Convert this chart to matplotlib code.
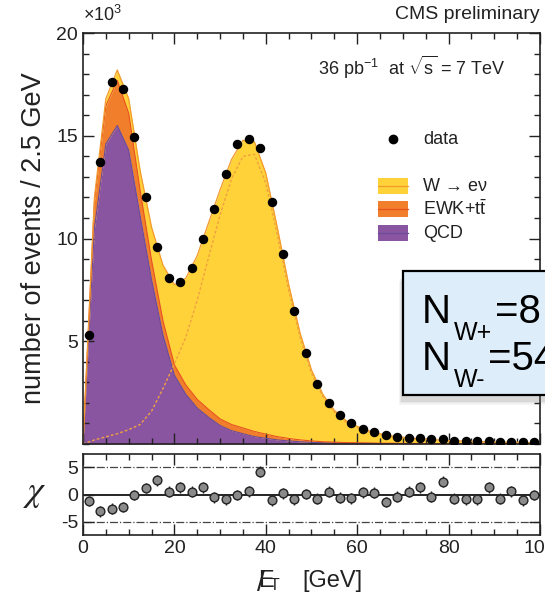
import numpy as np
import matplotlib
matplotlib.use('Agg')
import matplotlib.pyplot as plt
from matplotlib.patches import Rectangle

plt.rcParams['font.family'] = ['Liberation Sans', 'DejaVu Sans']
plt.rcParams['mathtext.fontset'] = 'custom'
plt.rcParams['mathtext.rm'] = 'Liberation Sans'
plt.rcParams['mathtext.it'] = 'Liberation Sans:italic'
plt.rcParams['mathtext.bf'] = 'Liberation Sans:bold'
plt.rcParams['axes.unicode_minus'] = False

# fit templates (x10^3 events / 2.5 GeV), evaluated on the bin edges
met_grid = [0, 2.5, 5, 7.5, 10, 12.5, 15, 17.5, 20, 22.5, 25, 27.5, 30, 32.5, 35, 37.5,
            40, 42.5, 45, 47.5, 50, 52.5, 55, 57.5, 60, 62.5, 65, 67.5, 70, 72.5, 75,
            77.5, 80, 82.5, 85, 87.5, 90, 92.5, 95, 97.5, 100]
qcd = [0, 10.5, 14.6, 15.5, 14.3, 11.1, 8.0, 5.3, 3.35, 2.42, 1.75, 1.3, 0.9, 0.65, 0.5, 0.36,
       0.28, 0.2, 0.15, 0.11, 0.08, 0.06, 0.05, 0.04, 0.03, 0.03, 0.02, 0.02, 0.02, 0.02, 0.01,
       0.01, 0.01, 0.01, 0.01, 0.01, 0.01, 0.01, 0.01, 0.01, 0.01]
ewk = [0, 1.3, 1.85, 2.2, 1.8, 1.25, 0.95, 0.7, 0.5, 0.45, 0.42, 0.38, 0.32, 0.3, 0.28, 0.25,
       0.2, 0.16, 0.12, 0.09, 0.07, 0.05, 0.04, 0.03, 0.03, 0.02, 0.02, 0.02, 0.01, 0.01, 0.01,
       0.01, 0.01, 0.01, 0.01, 0.0, 0.0, 0.0, 0.0, 0.0, 0.0]
wenu = [0, 0.2, 0.35, 0.5, 0.7, 0.95, 1.6, 2.7, 3.9, 5.2, 7.0, 9.1, 11.15, 12.9, 14.0, 14.1,
        12.7, 10.2, 7.5, 5.2, 3.45, 2.3, 1.55, 1.08, 0.8, 0.6, 0.46, 0.36, 0.3, 0.25, 0.21,
        0.18, 0.15, 0.13, 0.11, 0.1, 0.09, 0.08, 0.07, 0.06, 0.05]

# data, bin centres
bin_centers = np.arange(1.25, 100, 2.5)
data = [5.3, 13.7, 17.6, 17.3, 14.95, 12.0, 9.6, 8.06, 7.9, 8.55, 10.0, 11.45, 13.15, 14.6,
        14.85, 14.4, 11.8, 9.27, 6.45, 4.45, 2.9, 2.0, 1.4, 1.0, 0.73, 0.58, 0.44, 0.34, 0.3,
        0.27, 0.22, 0.22, 0.17, 0.15, 0.13, 0.13, 0.1, 0.1, 0.08, 0.08]
chi = [-1.2, -3.1, -2.65, -2.3, -0.1, 1.2, 2.6, 0.5, 1.35, 0.5, 1.35, -0.5, -0.9, -0.1, 0.6,
       4.2, -1.05, 0.2, -0.9, 0.1, -0.8, 0.5, -0.6, -0.7, 0.4, 0.3, -1.4, -0.4, 0.5, 1.35,
       -0.4, 2.35, -0.8, -0.9, -0.9, 1.35, -0.8, 0.6, -1.1, -0.1]

c_w = '#FFD23A'
c_ewk = '#F07E2A'
c_qcd = '#8A55A0'
txt = '#222222'

x = np.array(met_grid)
s_qcd = np.array(qcd)
s_ewk = s_qcd + np.array(ewk)
s_tot = s_ewk + np.array(wenu)

fig = plt.figure(figsize=(5.45, 5.96), dpi=100)
ax = fig.add_axes([0.1523, 0.255, 0.8385, 0.6896])
axr = fig.add_axes([0.1523, 0.1023, 0.8385, 0.136])

ax.fill_between(x, 0, s_qcd, color=c_qcd, lw=0, zorder=1)
ax.fill_between(x, s_qcd, s_ewk, color=c_ewk, lw=0, zorder=1)
ax.fill_between(x, s_ewk, s_tot, color=c_w, lw=0, zorder=1)
ax.plot(x, s_qcd, color='#6B4C9A', lw=0.8, zorder=2)
ax.plot(x, s_ewk, color='#E8521E', lw=0.8, zorder=2)
ax.plot(x, s_tot, color='#F29A2E', lw=0.9, zorder=2)
ax.plot(x, wenu, color='#F0A040', lw=1.0, ls=(0, (2, 1.5)), zorder=2)
ax.plot(bin_centers, data, 'o', color='black', ms=5.8, zorder=3)

ax.set_xlim(0, 100)
ax.set_ylim(0, 20)
ax.set_yticks([5, 10, 15, 20])
ax.set_yticks(np.arange(0, 21, 1), minor=True)
ax.set_xticks(np.arange(0, 101, 20))
ax.set_xticks(np.arange(0, 101, 5), minor=True)
ax.tick_params(labelbottom=False)
ax.set_ylabel('number of events / 2.5 GeV', fontsize=19.5, labelpad=7, color=txt)

for a in (ax, axr):
    a.tick_params(which='both', direction='in', top=True, right=True, labelsize=14,
                  width=1.0, colors=txt, labelcolor=txt)
    a.tick_params(which='major', length=8)
    a.tick_params(which='minor', length=4)
    for sp in a.spines.values():
        sp.set_linewidth(1.2)
        sp.set_color(txt)

# residuals
axr.axhline(0, color='black', lw=1.2, zorder=1)
axr.axhline(5, color='#444444', lw=0.9, ls='-.', zorder=1)
axr.axhline(-5, color='#444444', lw=0.9, ls='-.', zorder=1)
axr.errorbar(bin_centers, chi, yerr=1, fmt='o', ms=6.3, mfc='#8a8a8a', mec='#222222',
             mew=1.0, ecolor='#222222', elinewidth=1.0, capsize=0, zorder=3)
axr.set_xlim(0, 100)
axr.set_ylim(-7.5, 7.5)
axr.set_yticks([-5, 0, 5])
axr.set_xticks(np.arange(0, 101, 20))
axr.set_xticks(np.arange(0, 101, 5), minor=True)
axr.set_ylabel(r'$\chi$', fontsize=26, rotation=0, va='center', color=txt,
               math_fontfamily='stix')
axr.yaxis.set_label_coords(-0.105, 0.52)

def fy(py):
    return 1 - py / 596.0

# missing transverse energy label: E with a slash through it
fig.text(258 / 545, fy(587), 'E', fontsize=17, color=txt, va='baseline')
fig.text(257 / 545, fy(591), '/', fontsize=20, color=txt, va='baseline')
fig.text(270 / 545, fy(590), 'T', fontsize=11.5, color=txt, va='baseline')
fig.text(302 / 545, fy(587), '[GeV]', fontsize=17, color=txt, va='baseline')

# labels around the frame
fig.text(0.1523, 0.958, r'$\times$10$^{3}$', fontsize=13, color=txt, va='bottom')
fig.text(0.99, 0.975, 'CMS preliminary', fontsize=14, color=txt, ha='right', va='center')
ax.text(0.925, 0.915, r'36 pb$^{\mathregular{-1}}$  at $\sqrt{\mathrm{s}}$ = 7 TeV',
        transform=ax.transAxes, fontsize=13, ha='right', va='center', color=txt)

# legend
def ax_pt(px, py):
    return (px - 83) / 457.0, (444 - py) / 411.0

ax.plot(*ax_pt(393, 139), 'o', color='black', ms=6, transform=ax.transAxes, clip_on=False)
ax.text(*ax_pt(423, 139), 'data', transform=ax.transAxes, fontsize=13, va='center', color=txt)
leg_entries = [(186, c_w, '#F29A2E', 'W \u2192 e\u03bd'),
               (209, c_ewk, '#E8521E', r'EWK+t$\bar{\mathrm{t}}$'),
               (233, c_qcd, '#6B4C9A', 'QCD')]
for py, fc, lc, lab in leg_entries:
    bx, by = ax_pt(378, py + 8)
    ax.add_patch(Rectangle((bx, by), 30 / 457.0, 16 / 411.0, transform=ax.transAxes,
                           facecolor=fc, edgecolor='none', zorder=4))
    lx0, ly = ax_pt(378, py)
    lx1, _ = ax_pt(408, py)
    ax.plot([lx0, lx1], [ly, ly], color=lc, lw=0.9, transform=ax.transAxes, zorder=5)
    ax.text(*ax_pt(423, py), lab, transform=ax.transAxes, fontsize=13, va='center', color=txt)

# yield box
for k, al in enumerate([0.12, 0.10, 0.08]):
    fig.patches.append(Rectangle((0.7394 - 0.004 - 0.002 * k, 0.3372 - 0.012 - 0.002 * k),
                                 0.4, 0.208, transform=fig.transFigure, facecolor='#777777',
                                 edgecolor='none', alpha=al, zorder=8))
fig.patches.append(Rectangle((0.7394, 0.3372), 0.4, 0.208, transform=fig.transFigure,
                             facecolor='#DDEEFA', edgecolor='black', lw=1.6, zorder=9))

for base, sub, rest, rx in [(323, 'W+', '=8', 495), (370, 'W-', '=54', 488)]:
    fig.text(422 / 545, fy(base), 'N', fontsize=29, zorder=10, va='baseline')
    fig.text(454 / 545, fy(base + 17), sub, fontsize=18, zorder=10, va='baseline')
    fig.text(rx / 545, fy(base), rest, fontsize=29, zorder=10, va='baseline')

fig.savefig('out.png', dpi=100)
